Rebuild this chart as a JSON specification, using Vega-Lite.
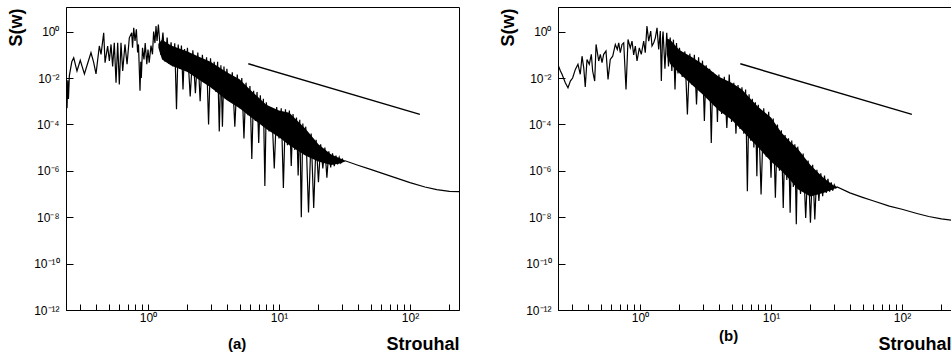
{
  "$schema": "https://vega.github.io/schema/vega-lite/v6.json",
  "padding": {"left": 6, "top": 6, "right": 0, "bottom": 0},
  "spacing": 38,
  "config": {
    "font": "Liberation Sans",
    "view": {"stroke": "#000", "strokeWidth": 1},
    "axis": {"grid": false, "domainColor": "#000", "tickColor": "#000", "labelColor": "#000", "titleColor": "#000", "labelFont": "Liberation Sans", "titleFont": "Liberation Sans", "labelFontSize": 12, "titleFontSize": 18, "titleFontWeight": "bold", "domainWidth": 1, "tickWidth": 1, "labelOverlap": false}
  },
  "datasets": {
    "a": [
      {"x":0.237,"y":0.01},{"x":0.241,"y":5e-4},{"x":0.244,"y":7.9e-3},{"x":0.247,"y":1.26e-3},{"x":0.251,"y":0.0126},{"x":0.262,"y":0.05},{"x":0.271,"y":0.074},{"x":0.287,"y":0.02},{"x":0.304,"y":0.058},{"x":0.327,"y":0.015},{"x":0.345,"y":0.04},{"x":0.367,"y":0.123},{"x":0.384,"y":0.05},{"x":0.401,"y":0.015},{"x":0.425,"y":0.24},{"x":0.438,"y":0.105},{"x":0.459,"y":0.89},{"x":0.47,"y":0.046},{"x":0.492,"y":0.24},{"x":0.507,"y":0.054},{"x":0.522,"y":0.28},{"x":0.537,"y":0.0316},{"x":0.553,"y":0.33},{"x":0.57,"y":6.3e-3},{"x":0.587,"y":0.33},{"x":0.604,"y":5.2e-3},{"x":0.622,"y":0.33},{"x":0.641,"y":0.02},{"x":0.667,"y":0.28},{"x":0.692,"y":0.039},{"x":0.72,"y":0.54},{"x":0.751,"y":0.89},{"x":0.762,"y":0.2},{"x":0.778,"y":1.45},{"x":0.796,"y":0.4},{"x":0.815,"y":1.26},{"x":0.833,"y":0.126},{"x":0.846,"y":0.28},{"x":0.869,"y":2.8e-3},{"x":0.881,"y":0.05},{"x":0.889,"y":0.01},{"x":0.908,"y":0.2},{"x":0.932,"y":0.063},{"x":0.952,"y":0.32},{"x":0.979,"y":0.039},{"x":1.0,"y":0.17},{"x":1.021,"y":0.046},{"x":1.054,"y":0.25},{"x":1.082,"y":0.105},{"x":1.104,"y":1.0},{"x":1.13,"y":0.32},{"x":1.151,"y":1.74},{"x":1.172,"y":0.4},
      {"x":1.2,"y":2.04},{"x":1.25,"y":0.1},{"x":1.3,"y":0.9},{"x":1.35,"y":0.05},{"x":1.4,"y":0.56},{"x":1.45,"y":0.04},{"x":1.5,"y":0.35},{"x":1.55,"y":0.0316},{"x":1.6,"y":0.316},{"x":1.65,"y":4.5e-4},{"x":1.7,"y":0.28},{"x":1.75,"y":0.025},{"x":1.8,"y":0.25},{"x":1.85,"y":3.2e-3},{"x":1.9,"y":0.178},{"x":1.95,"y":0.02},
      {"x":2.0,"y":0.2},{"x":2.1,"y":1.6e-3},{"x":2.2,"y":0.158},{"x":2.3,"y":2.2e-3},{"x":2.4,"y":0.126},{"x":2.5,"y":1e-3},{"x":2.6,"y":0.1},{"x":2.7,"y":6.3e-3},{"x":2.8,"y":0.079},{"x":2.9,"y":1e-4},{"x":3.0,"y":0.071},{"x":3.1,"y":3.5e-3},{"x":3.2,"y":0.05},{"x":3.3,"y":2.5e-3},{"x":3.4,"y":0.05},{"x":3.5,"y":5e-5},{"x":3.6,"y":0.035},{"x":3.7,"y":8e-5},{"x":3.8,"y":0.0316},{"x":3.9,"y":1.26e-3},
      {"x":4.0,"y":0.025},{"x":4.2,"y":1e-3},{"x":4.4,"y":0.0178},{"x":4.6,"y":8e-5},{"x":4.8,"y":0.014},{"x":5.0,"y":5e-4},{"x":5.2,"y":0.01},{"x":5.4,"y":2.5e-5},{"x":5.6,"y":6.3e-3},{"x":5.8,"y":2.5e-4},{"x":6.0,"y":4.5e-3},{"x":6.2,"y":3.2e-6},{"x":6.4,"y":2.8e-3},{"x":6.6,"y":1.4e-4},{"x":6.8,"y":2.5e-3},{"x":7.0,"y":1.6e-5},{"x":7.2,"y":1.8e-3},{"x":7.4,"y":1e-4},{"x":7.6,"y":1.26e-3},{"x":7.8,"y":2.2e-7},
      {"x":8.0,"y":8.9e-4},{"x":8.4,"y":5e-5},{"x":8.8,"y":5e-4},{"x":9.2,"y":1.26e-6},{"x":9.6,"y":5.6e-4},{"x":10.0,"y":2.5e-5},{"x":10.4,"y":5e-4},{"x":10.8,"y":1.8e-7},{"x":11.2,"y":4.5e-4},{"x":11.6,"y":1.26e-5},{"x":12.0,"y":4e-4},{"x":12.4,"y":1.6e-6},{"x":12.8,"y":2.8e-4},{"x":13.2,"y":7.9e-6},{"x":13.6,"y":2e-4},{"x":14.0,"y":6.3e-7},{"x":14.4,"y":1.6e-4},{"x":14.8,"y":1e-8},{"x":15.2,"y":1.1e-4},{"x":15.6,"y":5e-6},
      {"x":16.0,"y":8e-5},{"x":16.8,"y":1.6e-8},{"x":17.6,"y":4e-5},{"x":18.4,"y":2.5e-8},{"x":19.2,"y":2.2e-5},{"x":20.0,"y":3.2e-7},{"x":20.8,"y":1.4e-5},{"x":21.6,"y":1.26e-6},{"x":22.4,"y":1e-5},{"x":23.2,"y":5e-7},{"x":24.0,"y":7e-6},{"x":24.8,"y":1.4e-6},{"x":25.6,"y":5.6e-6},{"x":26.4,"y":1.6e-6},{"x":27.2,"y":4.5e-6},{"x":28.0,"y":1.9e-6},{"x":28.8,"y":3.8e-6},{"x":29.6,"y":2.24e-6},{"x":30.4,"y":3.2e-6},{"x":31.2,"y":2.5e-6},
      {"x":32,"y":2.7e-6},{"x":40,"y":1.74e-6},{"x":50,"y":1.15e-6},{"x":60,"y":8.1e-7},{"x":80,"y":4.7e-7},{"x":100,"y":3.1e-7},{"x":130,"y":2.0e-7},{"x":160,"y":1.55e-7},{"x":200,"y":1.29e-7},{"x":237,"y":1.26e-7}
    ],
    "aband": [
      {"x":1.2,"hi":0.3,"lo":0.2},{"x":1.28,"hi":0.45,"lo":0.063},{"x":1.5,"hi":0.25,"lo":0.035},{"x":2.0,"hi":0.14,"lo":0.018},{"x":2.5,"hi":0.079,"lo":7.9e-3},{"x":3.0,"hi":0.05,"lo":4e-3},{"x":4.0,"hi":0.0178,"lo":1.1e-3},{"x":5.0,"hi":8.9e-3,"lo":5e-4},{"x":6.0,"hi":3.2e-3,"lo":2.2e-4},{"x":8.0,"hi":7e-4,"lo":6.3e-5},{"x":10,"hi":4e-4,"lo":2.8e-5},{"x":12,"hi":3.2e-4,"lo":1.26e-5},{"x":16,"hi":6.3e-5,"lo":4.5e-6},{"x":20,"hi":1.4e-5,"lo":2.5e-6},{"x":25,"hi":5e-6,"lo":1.8e-6},{"x":30,"hi":3.2e-6,"lo":2.1e-6},{"x":32,"hi":2.7e-6,"lo":2.7e-6}
    ],
    "b": [
      {"x":0.239,"y":0.0324},{"x":0.247,"y":0.02},{"x":0.254,"y":0.0145},{"x":0.269,"y":6.3e-3},{"x":0.282,"y":3.8e-3},{"x":0.294,"y":7.4e-3},{"x":0.306,"y":0.01},{"x":0.321,"y":0.0234},{"x":0.336,"y":0.039},{"x":0.35,"y":0.0145},{"x":0.361,"y":0.087},{"x":0.372,"y":0.0275},{"x":0.382,"y":4.1e-3},{"x":0.394,"y":0.063},{"x":0.41,"y":0.039},{"x":0.425,"y":0.105},{"x":0.435,"y":0.02},{"x":0.451,"y":7.4e-3},{"x":0.462,"y":0.28},{"x":0.484,"y":0.054},{"x":0.498,"y":0.105},{"x":0.513,"y":0.046},{"x":0.528,"y":0.105},{"x":0.55,"y":0.145},{"x":0.57,"y":8.7e-3},{"x":0.593,"y":0.063},{"x":0.619,"y":0.087},{"x":0.648,"y":0.28},{"x":0.671,"y":0.17},{"x":0.688,"y":0.33},{"x":0.707,"y":0.123},{"x":0.729,"y":0.28},{"x":0.751,"y":0.33},{"x":0.782,"y":3.2e-3},{"x":0.81,"y":0.46},{"x":0.843,"y":0.2},{"x":0.869,"y":0.39},{"x":0.895,"y":0.1},{"x":0.921,"y":0.24},{"x":0.949,"y":0.054},{"x":0.988,"y":0.2},{"x":1.023,"y":0.105},{"x":1.067,"y":0.39},{"x":1.097,"y":0.123},{"x":1.13,"y":1.74},{"x":1.165,"y":0.39},{"x":1.207,"y":1.05},{"x":1.235,"y":0.24},{"x":1.273,"y":0.33},{"x":1.309,"y":0.54},{"x":1.349,"y":1.45},{"x":1.389,"y":0.17},{"x":1.429,"y":1.05},{"x":1.455,"y":7.4e-3},{"x":1.485,"y":0.5},
      {"x":1.5,"y":1.0},{"x":1.55,"y":0.025},{"x":1.6,"y":0.89},{"x":1.65,"y":0.0316},{"x":1.7,"y":0.56},{"x":1.75,"y":0.02},{"x":1.8,"y":0.45},{"x":1.85,"y":3.2e-3},{"x":1.9,"y":0.32},{"x":1.95,"y":0.0158},
      {"x":2.0,"y":0.2},{"x":2.1,"y":0.0112},{"x":2.2,"y":0.14},{"x":2.3,"y":2.7e-4},{"x":2.4,"y":0.112},{"x":2.5,"y":5e-3},{"x":2.6,"y":0.1},{"x":2.7,"y":7.2e-4},{"x":2.8,"y":0.079},{"x":2.9,"y":2.5e-3},{"x":3.0,"y":0.056},{"x":3.1,"y":1.4e-4},{"x":3.2,"y":0.035},{"x":3.3,"y":1.4e-3},{"x":3.4,"y":0.025},{"x":3.5,"y":1.6e-5},{"x":3.6,"y":0.0178},{"x":3.7,"y":6.3e-4},{"x":3.8,"y":0.0126},{"x":3.9,"y":1.26e-4},
      {"x":4.0,"y":0.014},{"x":4.2,"y":2.8e-4},{"x":4.4,"y":0.0112},{"x":4.6,"y":7e-5},{"x":4.8,"y":0.014},{"x":5.0,"y":1.26e-4},{"x":5.2,"y":6.3e-3},{"x":5.4,"y":4e-5},{"x":5.6,"y":5e-3},{"x":5.8,"y":6.3e-5},{"x":6.0,"y":4e-3},{"x":6.2,"y":4e-5},{"x":6.4,"y":3.2e-3},{"x":6.6,"y":1.3e-7},{"x":6.8,"y":2e-3},{"x":7.0,"y":2e-5},{"x":7.2,"y":1.26e-3},{"x":7.4,"y":1e-5},{"x":7.6,"y":8.9e-4},{"x":7.8,"y":5.9e-7},
      {"x":8.0,"y":7e-4},{"x":8.4,"y":9.5e-8},{"x":8.8,"y":5e-4},{"x":9.2,"y":4e-6},{"x":9.6,"y":3.5e-4},{"x":10.0,"y":5e-7},{"x":10.4,"y":1.8e-4},{"x":10.8,"y":6.9e-8},{"x":11.2,"y":1e-4},{"x":11.6,"y":1e-6},{"x":12.0,"y":5.6e-5},{"x":12.4,"y":2.5e-8},{"x":12.8,"y":3.5e-5},{"x":13.2,"y":4e-7},{"x":13.6,"y":2.5e-5},{"x":14.0,"y":1.55e-8},{"x":14.4,"y":2e-5},{"x":14.8,"y":2e-7},{"x":15.2,"y":1.4e-5},{"x":15.6,"y":5e-9},
      {"x":16.0,"y":1.1e-5},{"x":16.8,"y":1e-7},{"x":17.6,"y":5.6e-6},{"x":18.4,"y":9.3e-9},{"x":19.2,"y":2.8e-6},{"x":20.0,"y":5.8e-9},{"x":20.8,"y":1.8e-6},{"x":21.6,"y":7.9e-9},{"x":22.4,"y":1.1e-6},{"x":23.2,"y":5e-8},{"x":24.0,"y":7.9e-7},{"x":24.8,"y":8.1e-8},{"x":25.6,"y":6.3e-7},{"x":26.4,"y":1.1e-7},{"x":27.2,"y":4.5e-7},{"x":28.0,"y":1.26e-7},{"x":28.8,"y":3.2e-7},{"x":29.6,"y":1.4e-7},{"x":30.4,"y":2.5e-7},{"x":31.2,"y":1.8e-7},
      {"x":32,"y":2e-7},{"x":40,"y":1.12e-7},{"x":50,"y":7.2e-8},{"x":60,"y":5.1e-8},{"x":80,"y":3.0e-8},{"x":100,"y":2.2e-8},{"x":130,"y":1.45e-8},{"x":160,"y":1.07e-8},{"x":200,"y":8.5e-9},{"x":237,"y":7.4e-9}
    ],
    "bband": [
      {"x":1.6,"hi":0.5,"lo":0.1},{"x":1.7,"hi":0.45,"lo":0.04},{"x":2.0,"hi":0.16,"lo":0.016},{"x":2.5,"hi":0.079,"lo":5e-3},{"x":3.0,"hi":0.04,"lo":2e-3},{"x":4.0,"hi":0.0112,"lo":4e-4},{"x":5.0,"hi":6.3e-3,"lo":1.6e-4},{"x":6.0,"hi":3.2e-3,"lo":5.6e-5},{"x":7.0,"hi":1.26e-3,"lo":2.2e-5},{"x":8.0,"hi":5.6e-4,"lo":1e-5},{"x":10,"hi":2e-4,"lo":2.5e-6},{"x":12,"hi":4.5e-5,"lo":1e-6},{"x":14,"hi":1.8e-5,"lo":4e-7},{"x":16,"hi":8.9e-6,"lo":1.6e-7},{"x":20,"hi":1.8e-6,"lo":7.9e-8},{"x":25,"hi":5.2e-7,"lo":1.1e-7},{"x":30,"hi":2.3e-7,"lo":1.6e-7},{"x":32,"hi":2e-7,"lo":2e-7}
    ],
    "ref": [{"x":5.83,"y":0.041},{"x":119,"y":2.7e-4}]
  },
  "hconcat": [
    {
      "width": 393, "height": 303,
      "title": {"text": "(a)", "orient": "bottom", "anchor": "start", "frame": "group", "dx": 162, "offset": -16, "baseline": "top", "fontSize": 15, "fontWeight": "bold", "font": "Liberation Sans", "color": "#000"},
      "encoding": {
        "x": {"field": "x", "type": "quantitative", "scale": {"type": "log", "domain": [0.2366, 236.6], "nice": false},
          "axis": {"title": "Strouhal", "values": [0.3,0.4,0.5,0.6,0.7,0.8,0.9,1,2,3,4,5,6,7,8,9,10,20,30,40,50,60,70,80,90,100,200],
            "labelExpr": "abs(log(datum.value)/LN10 - round(log(datum.value)/LN10)) < 0.001 ? '10' + replace(replace(replace('' + round(log(datum.value)/LN10), '0', '⁰'), '1', '¹'), '2', '²') : ''",
            "tickSize": -6, "labelPadding": 8, "labelAngle": 0, "labelFlush": false, "titleX": 393, "titleY": 39, "titleAlign": "right", "titleBaseline": "alphabetic"}},
        "y": {"field": "y", "type": "quantitative", "title": "S(w)", "scale": {"type": "log", "domain": [1e-12, 11.5], "nice": false},
          "axis": {"title": "S(w)", "values": [1e-12,1e-10,1e-8,1e-6,1e-4,1e-2,1],
            "labelExpr": "'10' + replace(replace(replace(replace(replace(replace(replace('' + round(log(datum.value)/LN10), '-', '⁻'), '0', '⁰'), '1', '¹'), '2', '²'), '4', '⁴'), '6', '⁶'), '8', '⁸')",
            "tickSize": -7, "labelPadding": 14, "titleX": -50, "titleY": 1, "titleAngle": -90, "titleAlign": "right", "titleBaseline": "middle"}}
      },
      "layer": [
        {"data": {"name": "aband"}, "mark": {"type": "area", "color": "#000", "opacity": 1, "clip": true},
          "encoding": {"y": {"field": "hi", "type": "quantitative", "title": "S(w)"}, "y2": {"field": "lo"}}},
        {"data": {"name": "a"}, "mark": {"type": "line", "color": "#000", "strokeWidth": 1.2, "clip": true}},
        {"data": {"name": "ref"}, "mark": {"type": "line", "color": "#000", "strokeWidth": 1.5, "clip": true}}
      ]
    },
    {
      "width": 393, "height": 303,
      "title": {"text": "(b)", "orient": "bottom", "anchor": "start", "frame": "group", "dx": 161, "offset": -24, "baseline": "top", "fontSize": 15, "fontWeight": "bold", "font": "Liberation Sans", "color": "#000"},
      "encoding": {
        "x": {"field": "x", "type": "quantitative", "scale": {"type": "log", "domain": [0.2366, 236.6], "nice": false},
          "axis": {"title": "Strouhal", "values": [0.3,0.4,0.5,0.6,0.7,0.8,0.9,1,2,3,4,5,6,7,8,9,10,20,30,40,50,60,70,80,90,100,200],
            "labelExpr": "abs(log(datum.value)/LN10 - round(log(datum.value)/LN10)) < 0.001 ? '10' + replace(replace(replace('' + round(log(datum.value)/LN10), '0', '⁰'), '1', '¹'), '2', '²') : ''",
            "tickSize": -6, "labelPadding": 8, "labelAngle": 0, "labelFlush": false, "titleX": 393, "titleY": 39, "titleAlign": "right", "titleBaseline": "alphabetic"}},
        "y": {"field": "y", "type": "quantitative", "title": "S(w)", "scale": {"type": "log", "domain": [1e-12, 11.5], "nice": false},
          "axis": {"title": "S(w)", "values": [1e-12,1e-10,1e-8,1e-6,1e-4,1e-2,1],
            "labelExpr": "'10' + replace(replace(replace(replace(replace(replace(replace('' + round(log(datum.value)/LN10), '-', '⁻'), '0', '⁰'), '1', '¹'), '2', '²'), '4', '⁴'), '6', '⁶'), '8', '⁸')",
            "tickSize": -7, "labelPadding": 14, "titleX": -50, "titleY": 1, "titleAngle": -90, "titleAlign": "right", "titleBaseline": "middle"}}
      },
      "layer": [
        {"data": {"name": "bband"}, "mark": {"type": "area", "color": "#000", "opacity": 1, "clip": true},
          "encoding": {"y": {"field": "hi", "type": "quantitative", "title": "S(w)"}, "y2": {"field": "lo"}}},
        {"data": {"name": "b"}, "mark": {"type": "line", "color": "#000", "strokeWidth": 1.2, "clip": true}},
        {"data": {"name": "ref"}, "mark": {"type": "line", "color": "#000", "strokeWidth": 1.5, "clip": true}}
      ]
    }
  ]
}
